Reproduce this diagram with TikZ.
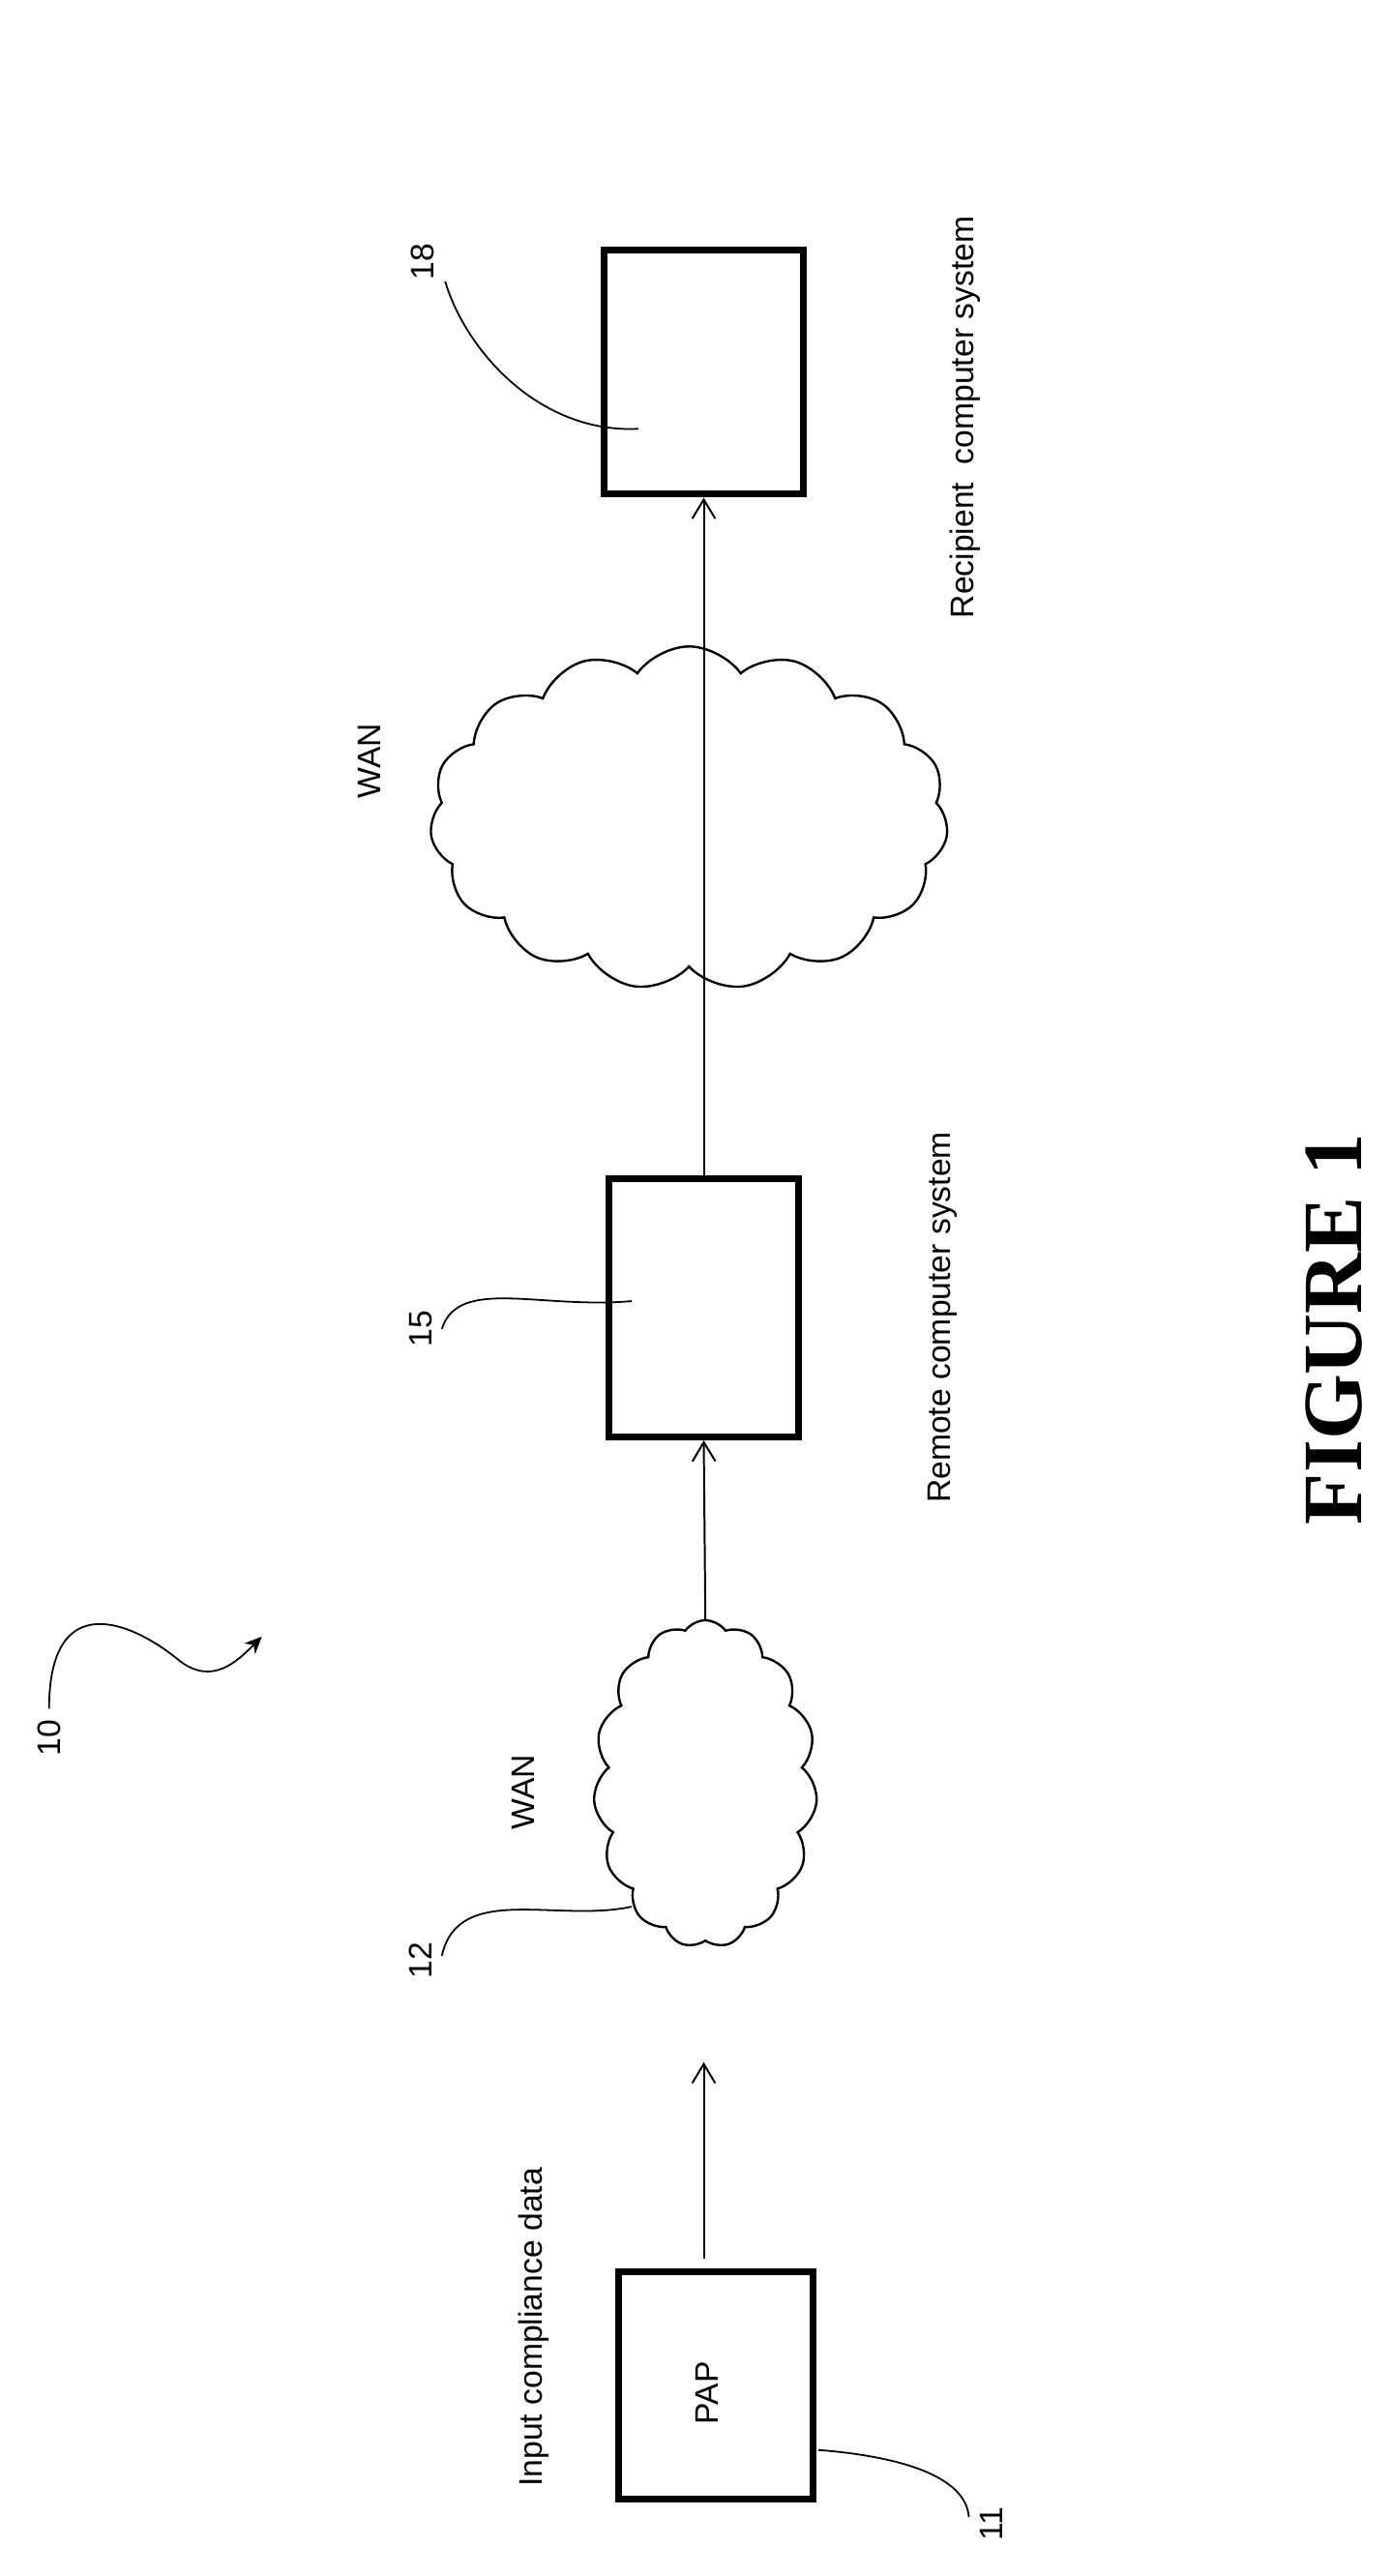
\documentclass[tikz,border=0pt]{standalone}
\usepackage{fontspec}
\setmainfont{Liberation Sans}
\newfontfamily\figfont{Liberation Serif}
\usetikzlibrary{shapes.symbols,arrows.meta}
\begin{document}
\begin{tikzpicture}[x=0.03cm,y=-0.03cm,
  box/.style={draw,line width=3.5pt,inner sep=0pt},
  lbl/.style={font=\fontsize{17}{20}\selectfont,rotate=90,inner sep=0pt},
  arr/.style={line width=1pt,-{Straight Barb[length=10pt,width=12pt]}},
  lead/.style={line width=0.9pt},
  cl/.style={cloud,draw,line width=1.2pt,cloud puffs=15,cloud puff arc=110,aspect=1.5}]
\useasboundingbox (0,0) rectangle (850,1574);
\node[box,minimum width=3.66cm,minimum height=4.47cm] (b18) at (430,227.5) {};
\node[box,minimum width=3.48cm,minimum height=4.74cm] (b15) at (430,799) {};
\node[box,minimum width=3.57cm,minimum height=4.17cm] (pap) at (437.5,1457.5) {};
\node[lbl] (paptxt) at (432,1462) {PAP};
\node[cl,minimum width=9.5cm,minimum height=6.3cm,aspect=1.5] (c1) at (421,500) {};
\node[cl,minimum width=4.1cm,minimum height=6cm,aspect=0.7] (c12) at (431,1090) {};
\draw[arr] (b15.north) -- (b18.south);
\draw[arr] (c12.north) -- (b15.south);
\coordinate (a1) at (430,1380);
\coordinate (a2) at (430,1260);
\draw[arr] (a1) -- (a2);
\node[lbl] (t18) at (590,255) {Recipient\ \ computer system};
\node[lbl] (w1) at (226,465) {WAN};
\node[lbl] (t15) at (576,805) {Remote computer system};
\node[lbl] (w2) at (320,1095) {WAN};
\node[lbl] (tin) at (326,1422) {Input compliance data};
\node[rotate=90,inner sep=0pt,font=\figfont\bfseries\fontsize{44}{48}\selectfont] (fig) at (815,812) {FIGURE 1};
\node[lbl] (n18) at (258,160) {18};
\node[lbl] (n15) at (257,812) {15};
\node[lbl] (n12) at (257,1198) {12};
\node[lbl] (n11) at (606,1542) {11};
\node[lbl] (n10) at (30,1062) {10};
\coordinate (s18) at (272,172);
\coordinate (s15) at (270,812);
\coordinate (s12) at (270,1195);
\coordinate (s11) at (592,1538);
\coordinate (s10) at (30,1044);
\coordinate (e18) at (390,262);
\coordinate (e15) at (386,795);
\coordinate (e12) at (386,1165);
\coordinate (e11) at (500,1497);
\coordinate (e10) at (160,1000);
\draw[lead] (s18) .. controls (285,215) and (330,265) .. (e18);
\draw[lead] (s15) .. controls (280,780) and (330,800) .. (e15);
\draw[lead] (s12) .. controls (280,1150) and (340,1175) .. (e12);
\draw[lead] (s11) .. controls (590,1510) and (540,1500) .. (e11);
\draw[lead,-{Stealth[length=9pt,width=8pt]}] (s10) .. controls (30,970) and (80,990) .. (110,1015) .. controls (130,1030) and (145,1015) .. (e10);
\end{tikzpicture}
\end{document}
